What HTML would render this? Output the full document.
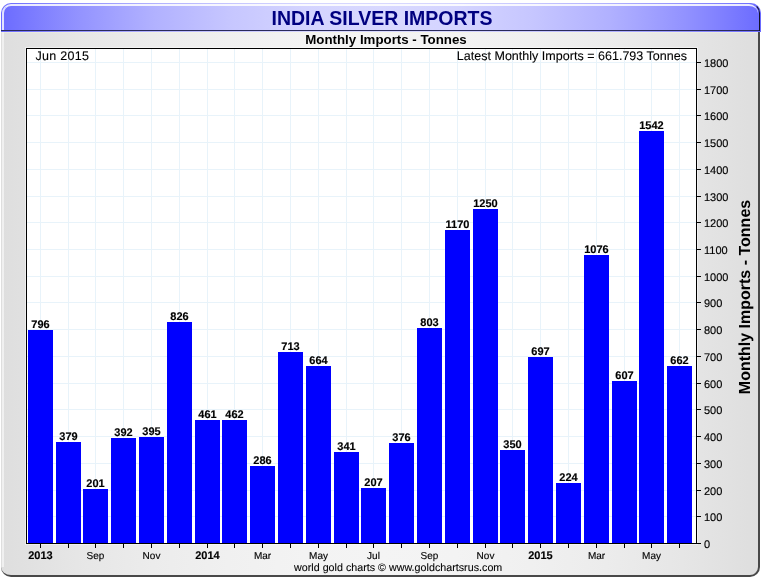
<!DOCTYPE html>
<html><head><meta charset="utf-8"><style>
html,body{margin:0;padding:0;background:#fff;width:764px;height:578px;overflow:hidden;position:relative}
*{font-family:"Liberation Sans",sans-serif}
.hdr{position:absolute;left:1px;top:3px;width:760px;height:29px;box-sizing:border-box;border-radius:10px 10px 0 0;
 background:linear-gradient(to right,rgb(107,107,255) 0%,rgb(127,127,255) 5%,rgb(146,146,255) 10%,rgb(162,162,255) 15%,rgb(177,177,255) 20%,rgb(198,198,255) 30%,rgb(212,212,255) 40%,rgb(216,216,255) 50%,rgb(212,212,255) 60%,rgb(198,198,255) 70%,rgb(177,177,255) 80%,rgb(162,162,255) 85%,rgb(146,146,255) 90%,rgb(127,127,255) 95%,rgb(107,107,255) 100%);}
.hdrhl{position:absolute;left:2px;top:4px;width:756px;height:27px;box-sizing:border-box;border-radius:9px 9px 0 0;border-left:2px solid rgba(255,255,255,.8);border-top:2px solid rgba(255,255,255,.85);}
.hline{position:absolute;left:1px;top:30px;width:759px;height:1px;background:#2a2a5c}
.body{position:absolute;left:1px;top:32px;width:759px;height:545px;box-sizing:border-box;border-radius:0 0 10px 10px;
 border-right:2px solid #484848;border-bottom:2px solid #484848;background:linear-gradient(to right,rgb(222,222,222) 0%,rgb(230,230,230) 10%,rgb(236,236,236) 20%,rgb(240,240,240) 30%,rgb(243,243,243) 40%,rgb(244,244,244) 50%,rgb(243,243,243) 60%,rgb(240,240,240) 70%,rgb(236,236,236) 80%,rgb(230,230,230) 90%,rgb(222,222,222) 100%);}
.bodyhl{position:absolute;left:2px;top:32px;width:2px;height:535px;background:rgba(255,255,255,.55)}
.bodytop{position:absolute;left:1px;top:32px;width:757px;height:1px;background:rgba(245,245,215,.4)}
.hright{position:absolute;left:1px;top:3px;width:759px;height:28px;box-sizing:border-box;border-right:1px solid #101028;border-top:1px solid transparent;border-top-right-radius:10px}
.title{will-change:transform;position:absolute;left:0;top:6px;width:764px;text-align:center;font-weight:bold;font-size:19.5px;color:#000080;line-height:24px}
.sub{will-change:transform;position:absolute;left:4px;top:32px;width:764px;text-align:center;font-weight:bold;font-size:13.3px;color:#000;line-height:16px}
.bl{font-weight:bold;font-size:11px;fill:#000;stroke:#000;stroke-width:.15px}
.yl{font-size:11px;fill:#000;stroke:#000;stroke-width:.15px}
.xl{font-size:10px;fill:#000;stroke:#000;stroke-width:.15px}
.xb{font-weight:bold;font-size:11px;fill:#000;stroke:#000;stroke-width:.15px}
.tn{font-size:12.5px;fill:#000;stroke:#000;stroke-width:.1px}
.ft{font-size:10.7px;fill:#000;stroke:#000;stroke-width:.1px}
.yt{font-weight:bold;font-size:16px;fill:#000}
</style></head><body>
<div class="body"></div>
<div class="bodyhl"></div>
<div class="bodytop"></div>
<div class="hdr"></div>
<div class="hdrhl"></div>
<div class="hline"></div>
<div class="hright"></div>
<div class="title">INDIA SILVER IMPORTS</div>
<div class="sub">Monthly Imports - Tonnes</div>
<svg width="764" height="578" style="position:absolute;left:0;top:0;will-change:transform" shape-rendering="crispEdges">
<rect x="25" y="47" width="673" height="498" fill="rgba(255,255,255,.45)"/>
<rect x="26" y="48" width="671" height="496" fill="#000"/>
<rect x="27" y="49" width="669" height="494" fill="#fff"/>
<rect x="27" y="516" width="669" height="1" fill="#e8f3fa"/><rect x="27" y="490" width="669" height="1" fill="#e8f3fa"/><rect x="27" y="463" width="669" height="1" fill="#e8f3fa"/><rect x="27" y="436" width="669" height="1" fill="#e8f3fa"/><rect x="27" y="409" width="669" height="1" fill="#e8f3fa"/><rect x="27" y="383" width="669" height="1" fill="#e8f3fa"/><rect x="27" y="356" width="669" height="1" fill="#e8f3fa"/><rect x="27" y="329" width="669" height="1" fill="#e8f3fa"/><rect x="27" y="302" width="669" height="1" fill="#e8f3fa"/><rect x="27" y="276" width="669" height="1" fill="#e8f3fa"/><rect x="27" y="249" width="669" height="1" fill="#e8f3fa"/><rect x="27" y="222" width="669" height="1" fill="#e8f3fa"/><rect x="27" y="196" width="669" height="1" fill="#e8f3fa"/><rect x="27" y="169" width="669" height="1" fill="#e8f3fa"/><rect x="27" y="142" width="669" height="1" fill="#e8f3fa"/><rect x="27" y="115" width="669" height="1" fill="#e8f3fa"/><rect x="27" y="89" width="669" height="1" fill="#e8f3fa"/><rect x="27" y="62" width="669" height="1" fill="#e8f3fa"/><rect x="40" y="49" width="1" height="494" fill="#e8f3fa"/><rect x="68" y="49" width="1" height="494" fill="#e8f3fa"/><rect x="95" y="49" width="1" height="494" fill="#e8f3fa"/><rect x="123" y="49" width="1" height="494" fill="#e8f3fa"/><rect x="151" y="49" width="1" height="494" fill="#e8f3fa"/><rect x="179" y="49" width="1" height="494" fill="#e8f3fa"/><rect x="207" y="49" width="1" height="494" fill="#e8f3fa"/><rect x="234" y="49" width="1" height="494" fill="#e8f3fa"/><rect x="262" y="49" width="1" height="494" fill="#e8f3fa"/><rect x="290" y="49" width="1" height="494" fill="#e8f3fa"/><rect x="318" y="49" width="1" height="494" fill="#e8f3fa"/><rect x="346" y="49" width="1" height="494" fill="#e8f3fa"/><rect x="373" y="49" width="1" height="494" fill="#e8f3fa"/><rect x="401" y="49" width="1" height="494" fill="#e8f3fa"/><rect x="429" y="49" width="1" height="494" fill="#e8f3fa"/><rect x="457" y="49" width="1" height="494" fill="#e8f3fa"/><rect x="485" y="49" width="1" height="494" fill="#e8f3fa"/><rect x="512" y="49" width="1" height="494" fill="#e8f3fa"/><rect x="540" y="49" width="1" height="494" fill="#e8f3fa"/><rect x="568" y="49" width="1" height="494" fill="#e8f3fa"/><rect x="596" y="49" width="1" height="494" fill="#e8f3fa"/><rect x="624" y="49" width="1" height="494" fill="#e8f3fa"/><rect x="651" y="49" width="1" height="494" fill="#e8f3fa"/><rect x="679" y="49" width="1" height="494" fill="#e8f3fa"/>
<rect x="28" y="330" width="25" height="213" fill="#0000ff"/><rect x="56" y="442" width="25" height="101" fill="#0000ff"/><rect x="83" y="489" width="25" height="54" fill="#0000ff"/><rect x="111" y="438" width="25" height="105" fill="#0000ff"/><rect x="139" y="437" width="25" height="106" fill="#0000ff"/><rect x="167" y="322" width="25" height="221" fill="#0000ff"/><rect x="195" y="420" width="25" height="123" fill="#0000ff"/><rect x="222" y="420" width="25" height="123" fill="#0000ff"/><rect x="250" y="466" width="25" height="77" fill="#0000ff"/><rect x="278" y="352" width="25" height="191" fill="#0000ff"/><rect x="306" y="366" width="25" height="177" fill="#0000ff"/><rect x="334" y="452" width="25" height="91" fill="#0000ff"/><rect x="361" y="488" width="25" height="55" fill="#0000ff"/><rect x="389" y="443" width="25" height="100" fill="#0000ff"/><rect x="417" y="328" width="25" height="215" fill="#0000ff"/><rect x="445" y="230" width="25" height="313" fill="#0000ff"/><rect x="473" y="209" width="25" height="334" fill="#0000ff"/><rect x="500" y="450" width="25" height="93" fill="#0000ff"/><rect x="528" y="357" width="25" height="186" fill="#0000ff"/><rect x="556" y="483" width="25" height="60" fill="#0000ff"/><rect x="584" y="255" width="25" height="288" fill="#0000ff"/><rect x="612" y="381" width="25" height="162" fill="#0000ff"/><rect x="639" y="131" width="25" height="412" fill="#0000ff"/><rect x="667" y="366" width="25" height="177" fill="#0000ff"/>
<rect x="26" y="543" width="671" height="1" fill="#000"/>
<rect x="40" y="544" width="1" height="4" fill="#000"/><rect x="68" y="544" width="1" height="4" fill="#000"/><rect x="95" y="544" width="1" height="4" fill="#000"/><rect x="123" y="544" width="1" height="4" fill="#000"/><rect x="151" y="544" width="1" height="4" fill="#000"/><rect x="179" y="544" width="1" height="4" fill="#000"/><rect x="207" y="544" width="1" height="4" fill="#000"/><rect x="234" y="544" width="1" height="4" fill="#000"/><rect x="262" y="544" width="1" height="4" fill="#000"/><rect x="290" y="544" width="1" height="4" fill="#000"/><rect x="318" y="544" width="1" height="4" fill="#000"/><rect x="346" y="544" width="1" height="4" fill="#000"/><rect x="373" y="544" width="1" height="4" fill="#000"/><rect x="401" y="544" width="1" height="4" fill="#000"/><rect x="429" y="544" width="1" height="4" fill="#000"/><rect x="457" y="544" width="1" height="4" fill="#000"/><rect x="485" y="544" width="1" height="4" fill="#000"/><rect x="512" y="544" width="1" height="4" fill="#000"/><rect x="540" y="544" width="1" height="4" fill="#000"/><rect x="568" y="544" width="1" height="4" fill="#000"/><rect x="596" y="544" width="1" height="4" fill="#000"/><rect x="624" y="544" width="1" height="4" fill="#000"/><rect x="651" y="544" width="1" height="4" fill="#000"/><rect x="679" y="544" width="1" height="4" fill="#000"/><rect x="697" y="543" width="4" height="1" fill="#000"/><rect x="697" y="516" width="4" height="1" fill="#000"/><rect x="697" y="490" width="4" height="1" fill="#000"/><rect x="697" y="463" width="4" height="1" fill="#000"/><rect x="697" y="436" width="4" height="1" fill="#000"/><rect x="697" y="409" width="4" height="1" fill="#000"/><rect x="697" y="383" width="4" height="1" fill="#000"/><rect x="697" y="356" width="4" height="1" fill="#000"/><rect x="697" y="329" width="4" height="1" fill="#000"/><rect x="697" y="302" width="4" height="1" fill="#000"/><rect x="697" y="276" width="4" height="1" fill="#000"/><rect x="697" y="249" width="4" height="1" fill="#000"/><rect x="697" y="222" width="4" height="1" fill="#000"/><rect x="697" y="196" width="4" height="1" fill="#000"/><rect x="697" y="169" width="4" height="1" fill="#000"/><rect x="697" y="142" width="4" height="1" fill="#000"/><rect x="697" y="115" width="4" height="1" fill="#000"/><rect x="697" y="89" width="4" height="1" fill="#000"/><rect x="697" y="62" width="4" height="1" fill="#000"/>
<g text-rendering="geometricPrecision">
<text x="35.5" y="60" class="tn" letter-spacing="0.28">Jun 2015</text>
<text x="456.8" y="60" class="tn" letter-spacing="0.02">Latest Monthly Imports = 661.793 Tonnes</text>
<text x="40.5" y="328" text-anchor="middle" class="bl">796</text><text x="68.5" y="440" text-anchor="middle" class="bl">379</text><text x="95.5" y="487" text-anchor="middle" class="bl">201</text><text x="123.5" y="436" text-anchor="middle" class="bl">392</text><text x="151.5" y="435" text-anchor="middle" class="bl">395</text><text x="179.5" y="320" text-anchor="middle" class="bl">826</text><text x="207.5" y="418" text-anchor="middle" class="bl">461</text><text x="234.5" y="418" text-anchor="middle" class="bl">462</text><text x="262.5" y="464" text-anchor="middle" class="bl">286</text><text x="290.5" y="350" text-anchor="middle" class="bl">713</text><text x="318.5" y="364" text-anchor="middle" class="bl">664</text><text x="346.5" y="450" text-anchor="middle" class="bl">341</text><text x="373.5" y="486" text-anchor="middle" class="bl">207</text><text x="401.5" y="441" text-anchor="middle" class="bl">376</text><text x="429.5" y="326" text-anchor="middle" class="bl">803</text><text x="457.5" y="228" text-anchor="middle" class="bl">1170</text><text x="485.5" y="207" text-anchor="middle" class="bl">1250</text><text x="512.5" y="448" text-anchor="middle" class="bl">350</text><text x="540.5" y="355" text-anchor="middle" class="bl">697</text><text x="568.5" y="481" text-anchor="middle" class="bl">224</text><text x="596.5" y="253" text-anchor="middle" class="bl">1076</text><text x="624.5" y="379" text-anchor="middle" class="bl">607</text><text x="651.5" y="129" text-anchor="middle" class="bl">1542</text><text x="679.5" y="364" text-anchor="middle" class="bl">662</text>
<text x="704" y="548" class="yl">0</text><text x="704" y="521" class="yl">100</text><text x="704" y="495" class="yl">200</text><text x="704" y="468" class="yl">300</text><text x="704" y="441" class="yl">400</text><text x="704" y="414" class="yl">500</text><text x="704" y="388" class="yl">600</text><text x="704" y="361" class="yl">700</text><text x="704" y="334" class="yl">800</text><text x="704" y="307" class="yl">900</text><text x="704" y="281" class="yl">1000</text><text x="704" y="254" class="yl">1100</text><text x="704" y="227" class="yl">1200</text><text x="704" y="201" class="yl">1300</text><text x="704" y="174" class="yl">1400</text><text x="704" y="147" class="yl">1500</text><text x="704" y="120" class="yl">1600</text><text x="704" y="94" class="yl">1700</text><text x="704" y="67" class="yl">1800</text>
<text x="40.5" y="559" text-anchor="middle" class="xb">2013</text><text x="95.5" y="559" text-anchor="middle" class="xl">Sep</text><text x="151.5" y="559" text-anchor="middle" class="xl">Nov</text><text x="207.5" y="559" text-anchor="middle" class="xb">2014</text><text x="262.5" y="559" text-anchor="middle" class="xl">Mar</text><text x="318.5" y="559" text-anchor="middle" class="xl">May</text><text x="373.5" y="559" text-anchor="middle" class="xl">Jul</text><text x="429.5" y="559" text-anchor="middle" class="xl">Sep</text><text x="485.5" y="559" text-anchor="middle" class="xl">Nov</text><text x="540.5" y="559" text-anchor="middle" class="xb">2015</text><text x="596.5" y="559" text-anchor="middle" class="xl">Mar</text><text x="651.5" y="559" text-anchor="middle" class="xl">May</text>
<text x="294" y="571" class="ft" letter-spacing="0.02">world gold charts © www.goldchartsrus.com</text>
<text transform="translate(750,297) rotate(-90)" text-anchor="middle" class="yt">Monthly Imports - Tonnes</text>
</g>
</svg>
</body></html>
